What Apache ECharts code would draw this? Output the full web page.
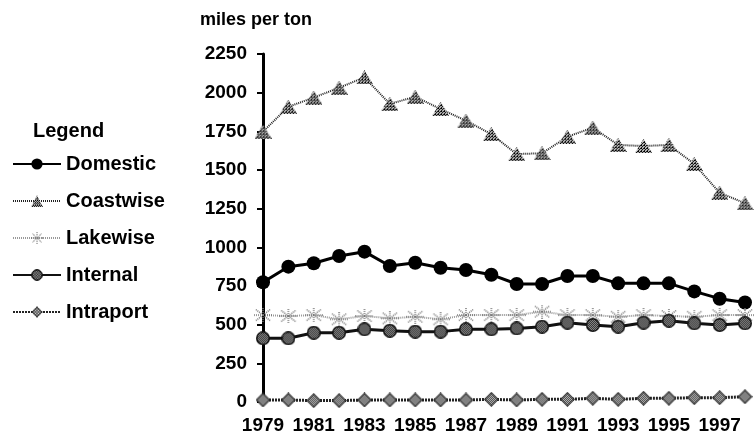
<!DOCTYPE html>
<html>
<head>
<meta charset="utf-8">
<script src="https://cdn.jsdelivr.net/npm/echarts@6/dist/echarts.min.js"></script>
<style>
  html, body { margin: 0; padding: 0; background: #fff; }
  #chart { width: 755px; height: 445px; }
</style>
</head>
<body>
<div id="chart"></div>
<script>
// data
const years = ['1979', '1980', '1981', '1982', '1983', '1984', '1985', '1986', '1987', '1988',
  '1989', '1990', '1991', '1992', '1993', '1994', '1995', '1996', '1997', '1998']
const domestic = [774, 875, 897, 944, 972, 879, 900, 868, 853, 823, 763, 763, 815, 815, 767, 767, 767, 715, 668, 643]
const coastwise = [1748, 1909, 1968, 2032, 2099, 1927, 1974, 1894, 1819, 1732, 1603, 1608, 1715, 1774, 1662, 1655, 1662, 1539, 1353, 1285]
const lakewise = [562, 556, 562, 535, 556, 541, 551, 535, 562, 562, 562, 584, 562, 562, 551, 562, 556, 551, 562, 562]
const internal = [412, 412, 448, 448, 470, 461, 455, 455, 470, 470, 476, 487, 513, 498, 487, 513, 526, 509, 498, 509]
const intraport = [13, 13, 9, 9, 13, 13, 13, 13, 13, 17, 13, 17, 17, 24, 17, 24, 24, 28, 28, 34]
const seriesNames = ['Domestic', 'Coastwise', 'Lakewise', 'Internal', 'Intraport']

const font = '"Liberation Sans", Arial, sans-serif'

// small pattern tiles for the marker fills
function tile(size, paint) {
  const c = document.createElement('canvas')
  c.width = size
  c.height = size
  paint(c.getContext('2d'))
  return c
}
function makeSymbol(w, h, draw) {
  const c = document.createElement('canvas')
  c.width = w
  c.height = h
  draw(c.getContext('2d'), w, h)
  return 'image://' + c.toDataURL()
}

const hatchTile = tile(3, ctx => {
  ctx.fillStyle = '#bbb'
  ctx.fillRect(0, 0, 3, 3)
  ctx.fillStyle = '#000'
  ctx.fillRect(0, 2, 1, 1)
  ctx.fillRect(1, 1, 1, 1)
  ctx.fillRect(2, 0, 1, 1)
  ctx.fillRect(0, 0, 1, 1)
})
function checkerTile(a, b) {
  return tile(2, ctx => {
    ctx.fillStyle = a
    ctx.fillRect(0, 0, 2, 2)
    ctx.fillStyle = b
    ctx.fillRect(0, 0, 1, 1)
    ctx.fillRect(1, 1, 1, 1)
  })
}

const triangleSym = makeSymbol(17, 14, (ctx, w, h) => {
  ctx.beginPath()
  ctx.moveTo(w / 2, 0)
  ctx.lineTo(w, h)
  ctx.lineTo(0, h)
  ctx.closePath()
  ctx.fillStyle = ctx.createPattern(hatchTile, 'repeat')
  ctx.fill()
})

const starSym = makeSymbol(18, 14, (ctx, w, h) => {
  ctx.strokeStyle = '#777'
  ctx.lineWidth = 1.5
  ctx.setLineDash([1, 1])
  const cx = w / 2
  const cy = h / 2
  const rays = [[-1, 0], [1, 0], [0, -1], [0, 1], [-0.8, -0.8], [0.8, 0.8], [-0.8, 0.8], [0.8, -0.8]]
  rays.forEach(([dx, dy]) => {
    ctx.beginPath()
    ctx.moveTo(cx, cy)
    ctx.lineTo(cx + dx * (w / 2), cy + dy * (h / 2))
    ctx.stroke()
  })
})

const dotCircleSym = makeSymbol(14, 14, (ctx, w, h) => {
  ctx.beginPath()
  ctx.arc(w / 2, h / 2, 7, 0, Math.PI * 2)
  ctx.fillStyle = '#111'
  ctx.fill()
  ctx.beginPath()
  ctx.arc(w / 2, h / 2, 5.5, 0, Math.PI * 2)
  ctx.fillStyle = ctx.createPattern(checkerTile('#222', '#9a9a9a'), 'repeat')
  ctx.fill()
})

const diamondSym = makeSymbol(15, 15, (ctx, w, h) => {
  ctx.beginPath()
  ctx.moveTo(w / 2, 0)
  ctx.lineTo(w, h / 2)
  ctx.lineTo(w / 2, h)
  ctx.lineTo(0, h / 2)
  ctx.closePath()
  ctx.fillStyle = '#222'
  ctx.fill()
  ctx.beginPath()
  ctx.moveTo(w / 2, 1.5)
  ctx.lineTo(w - 1.5, h / 2)
  ctx.lineTo(w / 2, h - 1.5)
  ctx.lineTo(1.5, h / 2)
  ctx.closePath()
  ctx.fillStyle = ctx.createPattern(checkerTile('#3a3a3a', '#c8c8c8'), 'repeat')
  ctx.fill()
})

const chart = echarts.init(document.getElementById('chart'), null, { renderer: 'canvas' })

chart.setOption({
  backgroundColor: '#fff',
  animation: false,
  title: [
    {
      text: 'miles per ton',
      left: 195,
      top: 6,
      textStyle: { fontFamily: font, fontSize: 18, fontWeight: 'bold', color: '#000' }
    },
    {
      text: 'Legend',
      left: 28,
      top: 116,
      textStyle: { fontFamily: font, fontSize: 20, fontWeight: 'bold', color: '#000' }
    }
  ],
  legend: {
    orient: 'vertical',
    left: 7,
    top: 149,
    itemWidth: 48,
    itemHeight: 14,
    itemGap: 17,
    data: seriesNames,
    textStyle: {
      fontFamily: font,
      fontSize: 20,
      fontWeight: 'bold',
      color: '#000'
    }
  },
  grid: {
    left: 263,
    right: 10,
    top: 54,
    bottom: 43
  },
  xAxis: {
    type: 'category',
    data: years,
    boundaryGap: false,
    axisLine: { show: false },
    axisTick: { show: false },
    axisLabel: {
      interval: 1,
      margin: 14,
      fontFamily: font,
      fontSize: 19,
      fontWeight: 'bold',
      color: '#000'
    }
  },
  yAxis: {
    type: 'value',
    min: 0,
    max: 2250,
    interval: 250,
    axisLine: { show: true, lineStyle: { color: '#000', width: 3 } },
    axisTick: { show: true, length: 6, lineStyle: { color: '#000', width: 2 } },
    splitLine: { show: false },
    axisLabel: {
      margin: 16,
      fontFamily: font,
      fontSize: 19,
      fontWeight: 'bold',
      color: '#000',
      formatter: v => String(v)
    }
  },
  series: [
    {
      name: 'Domestic',
      type: 'line',
      data: domestic,
      symbol: 'circle',
      symbolSize: 14,
      lineStyle: { color: '#000', width: 3 },
      itemStyle: { color: '#000' }
    },
    {
      name: 'Coastwise',
      type: 'line',
      data: coastwise,
      symbol: triangleSym,
      symbolSize: [17, 14],
      lineStyle: { color: '#222', width: 2, type: [1, 1] },
      itemStyle: { color: '#444' }
    },
    {
      name: 'Lakewise',
      type: 'line',
      data: lakewise,
      symbol: starSym,
      symbolSize: [18, 14],
      lineStyle: { color: '#999', width: 2, type: [1, 1] },
      itemStyle: { color: '#999' }
    },
    {
      name: 'Internal',
      type: 'line',
      data: internal,
      symbol: dotCircleSym,
      symbolSize: 14,
      lineStyle: { color: '#111', width: 3 },
      itemStyle: { color: '#333' }
    },
    {
      name: 'Intraport',
      type: 'line',
      data: intraport,
      symbol: diamondSym,
      symbolSize: 15,
      lineStyle: { color: '#222', width: 3, type: [2, 1] },
      itemStyle: { color: '#555' }
    }
  ]
})
</script>
</body>
</html>
